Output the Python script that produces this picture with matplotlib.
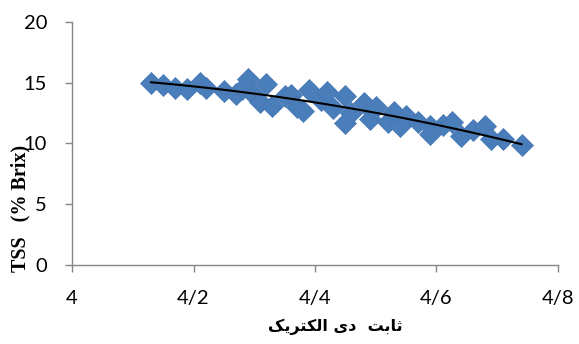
import numpy as np
import matplotlib
matplotlib.use('Agg')
import matplotlib.pyplot as plt
import matplotlib.ticker as ticker

# dielectric constant vs TSS
x_vals = [4.13, 4.15, 4.17, 4.19, 4.21, 4.22, 4.25, 4.27, 4.28, 4.29, 4.30, 4.31,
          4.32, 4.33, 4.35, 4.36, 4.37, 4.38, 4.39, 4.41, 4.42, 4.43, 4.45, 4.45,
          4.46, 4.48, 4.49, 4.50, 4.52, 4.53, 4.54, 4.55, 4.57, 4.59, 4.59, 4.61,
          4.625, 4.64, 4.66, 4.68, 4.69, 4.71, 4.74]
y_vals = [15.0, 14.8, 14.6, 14.5, 15.0, 14.6, 14.3, 14.1, 14.5, 15.3, 14.0, 13.4,
          14.9, 13.1, 13.9, 14.0, 13.0, 12.7, 14.4, 13.6, 14.2, 12.9, 13.9, 11.7,
          12.5, 13.3, 12.0, 13.0, 11.8, 12.6, 11.4, 12.3, 11.8, 11.4, 10.8, 11.5,
          11.8, 10.6, 11.1, 11.4, 10.4, 10.4, 9.9]

x_ticks = [4.0, 4.2, 4.4, 4.6, 4.8]
x_tick_labels = ['4', '4/2', '4/4', '4/6', '4/8']
y_ticks = [0, 5, 10, 15, 20]

# "ثابت  دی الکتریک" in presentation forms, visual (left to right) order
xlabel_txt = '\uFB8F\uFEF3\uFEAE\uFE98\uFB91\uFEDF\uFE8D \uFEEF\uFEA9  \uFE96\uFE91\uFE8E\uFE9B'
ylabel_txt = 'TSS   (% Brix)'

fig = plt.figure(figsize=(5.79, 3.44), dpi=100)
ax = fig.add_axes([0.1244, 0.2297, 0.8393, 0.7063])

ax.scatter(x_vals, y_vals, marker='D', s=11.2 ** 2, color='#4A7EBB',
           edgecolor='#4576B3', linewidth=0.5, zorder=2)

# second order trendline
coef = np.polyfit(x_vals, y_vals, 2)
xx = np.linspace(min(x_vals), max(x_vals), 100)
ax.plot(xx, np.polyval(coef, xx), color='black', lw=1.5, zorder=3)

ax.set_xlim(4.0, 4.8)
ax.set_ylim(0, 20)
ax.xaxis.set_major_locator(ticker.FixedLocator(x_ticks))
ax.set_xticklabels(x_tick_labels)
ax.yaxis.set_major_locator(ticker.FixedLocator(y_ticks))

ax.spines['right'].set_visible(False)
ax.spines['top'].set_visible(False)
for s in ['left', 'bottom']:
    ax.spines[s].set_color('#868686')
    ax.spines[s].set_linewidth(1.0)
ax.tick_params(axis='both', color='#868686', length=5, width=1.0, pad=13,
               labelsize=14.5, labelcolor='black')
for lab in ax.get_xticklabels() + ax.get_yticklabels():
    lab.set_family('Lato')

fig.text(20 / 579, 1 - 208 / 344, ylabel_txt, rotation=90, ha='center', va='center',
         family='Liberation Serif', weight='bold', fontsize=14.5)
fig.text(335 / 579, 1 - 327 / 344, xlabel_txt, ha='center', va='center',
         family='DejaVu Sans', weight='bold', fontsize=11.5)

fig.savefig('out.png', dpi=100, facecolor='white')
